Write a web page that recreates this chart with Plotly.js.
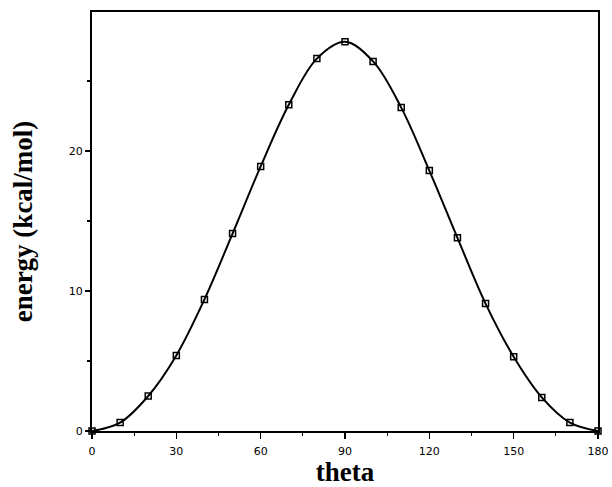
<!DOCTYPE html>
<html><head><meta charset="utf-8">
<script src="https://cdn.plot.ly/plotly-3.0.1.min.js"></script>
<style>body{margin:0;background:#fff}#c{width:612px;height:487px}</style>
</head><body><div id="c"></div>
<script>
const theta = [0,10,20,30,40,50,60,70,80,90,100,110,120,130,140,150,160,170,180];
const energy = [0,0.6,2.5,5.4,9.4,14.1,18.9,23.3,26.6,27.8,26.4,23.1,18.6,13.8,9.1,5.3,2.4,0.6,0];
const xTicks = [0,30,60,90,120,150,180];
const yTicks = [0,10,20];
Plotly.newPlot('c',[{
  x: theta, y: energy, type:'scatter', mode:'lines+markers',
  line:{color:'#000', width:2, shape:'spline', smoothing:1},
  marker:{symbol:'square-open', size:6, color:'#000', line:{width:1.5}},
  cliponaxis:false, showlegend:false
}],{
  width:612, height:487,
  margin:{l:92, r:14, t:12, b:56},
  paper_bgcolor:'#fff', plot_bgcolor:'#fff',
  xaxis:{range:[0,180], tickvals:xTicks, ticktext:xTicks.map(String),
    ticks:'outside', ticklen:6, tickwidth:1.5, tickcolor:'#000',
    minor:{dtick:15, ticks:'outside', ticklen:3, tickwidth:1.2, tickcolor:'#000', tick0:0},
    showgrid:false, zeroline:false, showline:true, linecolor:'#000', linewidth:2, mirror:true,
    tickfont:{family:'DejaVu Sans', size:11, color:'#000'}, ticklabelstandoff:3,
    title:{text:'theta', font:{family:'Liberation Serif, Times New Roman', size:27, color:'#000', weight:'bold'}, standoff:8}},
  yaxis:{range:[0,29.93], tickvals:yTicks, ticktext:yTicks.map(String),
    ticks:'outside', ticklen:5, tickwidth:1.5, tickcolor:'#000',
    minor:{dtick:5, ticks:'outside', ticklen:3, tickwidth:1.2, tickcolor:'#000', tick0:0},
    showgrid:false, zeroline:false, showline:true, linecolor:'#000', linewidth:2, mirror:true,
    tickfont:{family:'DejaVu Sans', size:11, color:'#000'},
    title:{text:'energy (kcal/mol)', font:{family:'Liberation Serif, Times New Roman', size:27, color:'#000', weight:'bold'}, standoff:28}}
},{staticPlot:true});
</script></body></html>
